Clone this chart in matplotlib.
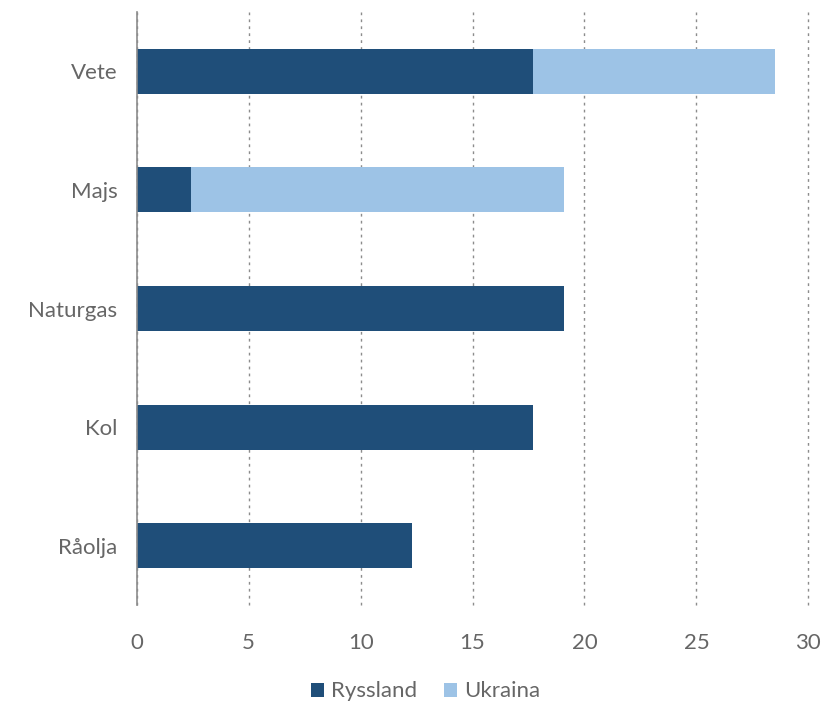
import numpy as np
import matplotlib.pyplot as plt

# Data
categories = ["Vete", "Majs", "Naturgas", "Kol", "Råolja"]
russia = [17.7, 2.4, 19.1, 17.7, 12.3]
ukraine = [10.8, 16.7, 0, 0, 0]

plt.rcParams["font.family"] = ["Lato", "DejaVu Sans"]

fig = plt.figure(figsize=(8.24, 7.02), dpi=100)
ax = fig.add_axes([0.166, 0.138, 0.815, 0.845])

y = np.arange(len(categories))
ax.barh(y, russia, height=0.38, color="#1f4e79", label="Ryssland")
ax.barh(y, ukraine, left=russia, height=0.38, color="#9dc3e6", label="Ukraina")

ax.set_xlim(0, 30)
ax.set_ylim(4.5, -0.5)
ax.set_xticks(range(0, 31, 5))
ax.set_yticks(y)
ax.set_yticklabels(categories)

ax.xaxis.grid(True, linestyle=(0, (2, 3)), color="#8c8c8c", linewidth=1)
for gl in ax.get_xgridlines():
    gl.set_clip_on(False)
ax.set_axisbelow(True)
for s in ["top", "right", "bottom"]:
    ax.spines[s].set_visible(False)
ax.spines["left"].set_color("#8c8c8c")
ax.spines["left"].set_linewidth(1.2)

ax.tick_params(axis="both", length=0, labelsize=16, labelcolor="#666666")
ax.tick_params(axis="x", pad=20)
ax.tick_params(axis="y", pad=14)

ax.legend(loc="upper center", bbox_to_anchor=(0.43, -0.095), ncol=2, frameon=False,
          fontsize=16, labelcolor="#666666", handlelength=0.6, handleheight=0.6,
          handletextpad=0.3, columnspacing=1.2)

plt.savefig("out.png", dpi=100)
